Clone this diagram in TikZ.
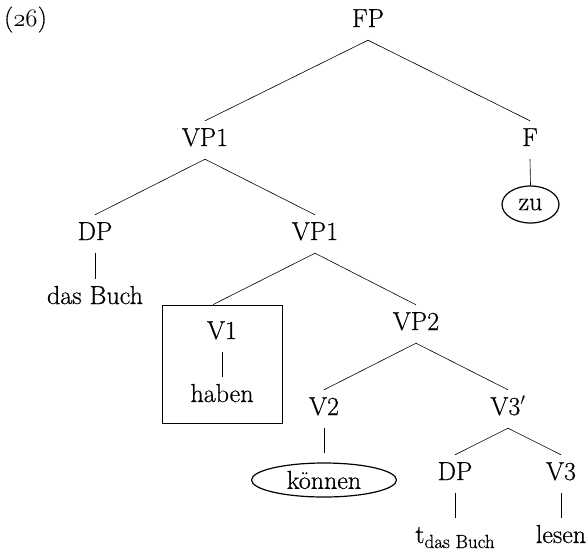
\documentclass[tikz,border=0pt]{standalone}
\usepackage{fontspec}
\newfontfamily\treefont[FakeBold=0.6]{Latin Modern Roman}
\usetikzlibrary{shapes.geometric}
\begin{document}
\begin{tikzpicture}[x=1pt,y=-1pt,
  every node/.style={font=\treefont\fontsize{26}{30}\selectfont},
  lab/.style={anchor=base,text height=17pt,text depth=5pt,inner ysep=8pt,inner xsep=1pt},
  circ/.style={ellipse,draw,line width=1.2pt,inner sep=0pt},
  branch/.style={line width=0.6pt}]
\useasboundingbox (0,0) rectangle (588,554);
\node[anchor=base] (ex) at (25.5,26) {({\usefont{OML}{cmm}{m}{it}26})};
\node[lab] (FP) at (368,27) {FP};
\node[lab] (VP1a) at (205,146) {VP1};
\node[lab] (F) at (530,146) {F};
\node[circ,minimum width=57pt,minimum height=37pt] (zu) at (530.5,204.5) {zu};
\node[lab] (DPa) at (95,240) {DP};
\node[lab] (dasBuch) at (95,304) {das Buch};
\node[lab] (VP1b) at (315,240) {VP1};
\node[draw,line width=0.8pt,minimum width=120pt,minimum height=118pt] (hbox) at (222,364) {};
\node[lab] (V1) at (222,339) {V1};
\node[lab] (haben) at (222,402) {haben};
\node[lab] (VP2) at (416,330) {VP2};
\node[lab] (V2) at (324,415) {V2};
\node[circ,outer ysep=10pt,minimum width=145pt,minimum height=34pt] (konnen) at (324,480) {können};
\node[lab] (V3p) at (508,415) {V3$'$};
\node[lab] (DPb) at (455,480) {DP};
\node[lab] (V3) at (561,480) {V3};
\node[lab] (trace) at (455,543) {t\raisebox{-5pt}{\fontsize{19}{20}\selectfont das Buch}};
\node[lab] (lesen) at (561,543) {lesen};
\draw[branch] (FP.south) -- (VP1a.north);
\draw[branch] (FP.south) -- (F.north);
\draw[branch] (F.south) -- (zu.north);
\draw[branch] (VP1a.south) -- (DPa.north);
\draw[branch] (VP1a.south) -- (VP1b.north);
\draw[branch] (DPa.south) -- (dasBuch.north);
\draw[branch] (VP1b.south) -- ([xshift=-9pt]hbox.north);
\draw[branch] (VP1b.south) -- (VP2.north);
\draw[branch] (V1.south) -- (haben.north);
\draw[branch] (VP2.south) -- (V2.north);
\draw[branch] (VP2.south) -- (V3p.north);
\draw[branch] (V2.south) -- (konnen.north);
\draw[branch] (V3p.south) -- (DPb.north);
\draw[branch] (V3p.south) -- (V3.north);
\draw[branch] (DPb.south) -- (trace.north);
\draw[branch] (V3.south) -- (lesen.north);
\end{tikzpicture}
\end{document}
